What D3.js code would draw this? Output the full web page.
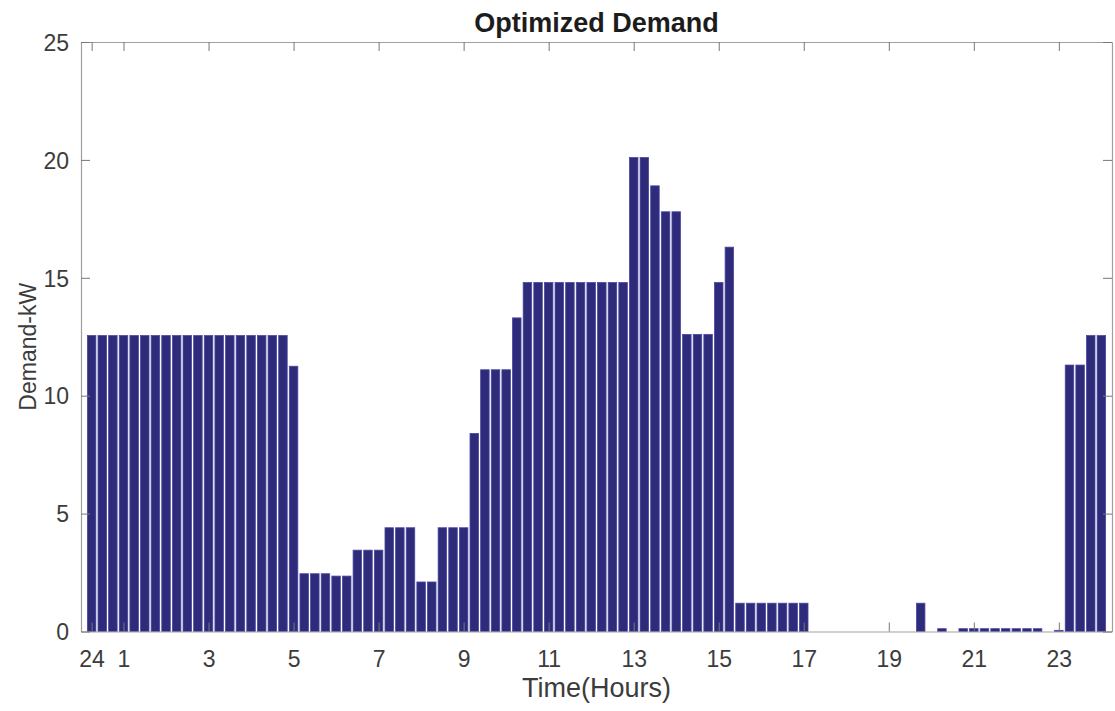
<!DOCTYPE html>
<html>
<head>
<meta charset="utf-8">
<script src="https://cdn.jsdelivr.net/npm/d3@7/dist/d3.min.js"></script>
<style>
  html, body { margin: 0; padding: 0; background: #ffffff; }
  svg { display: block; }
  text { font-family: "Liberation Sans", Arial, Helvetica, sans-serif; }
</style>
</head>
<body>
<svg id="chart" width="1115" height="711"></svg>
<script>
// Quarter-hour slots (1..96) of the day
const slots = d3.range(1, 97);

// Optimized demand per quarter-hour slot, kW
const demand = [
  12.55, 12.55, 12.55, 12.55, 12.55, 12.55, 12.55, 12.55,
  12.55, 12.55, 12.55, 12.55, 12.55, 12.55, 12.55, 12.55,
  12.55, 12.55, 12.55, 11.25, 2.45, 2.45, 2.45, 2.35,
  2.35, 3.45, 3.45, 3.45, 4.4, 4.4, 4.4, 2.1,
  2.1, 4.4, 4.4, 4.4, 8.4, 11.1, 11.1, 11.1,
  13.3, 14.8, 14.8, 14.8, 14.8, 14.8, 14.8, 14.8,
  14.8, 14.8, 14.8, 20.1, 20.1, 18.9, 17.8, 17.8,
  12.6, 12.6, 12.6, 14.8, 16.3, 1.2, 1.2, 1.2,
  1.2, 1.2, 1.2, 1.2, 0, 0, 0, 0,
  0, 0, 0, 0, 0, 0, 1.2, 0,
  0.12, 0, 0.12, 0.12, 0.12, 0.12, 0.12, 0.12,
  0.12, 0.12, 0, 0.05, 11.3, 11.3, 12.55, 12.55
];

// Hour ticks on the slot axis
const tickSlots  = [1, 4, 12, 20, 28, 36, 44, 52, 60, 68, 76, 84, 92];
const tickLabels = ["24", "1", "3", "5", "7", "9", "11", "13", "15", "17", "19", "21", "23"];
const yTicks = [0, 5, 10, 15, 20, 25];

const plotLeft = 81, plotRight = 1112, plotTop = 42, plotBottom = 631.5;
const svg = d3.select("#chart");

const x = d3.scaleLinear().domain([0, 97]).range([plotLeft, plotRight]);
const y = d3.scaleLinear().domain([0, 25]).range([plotBottom, plotTop]);
const barW = 0.8;

// Bars
svg.append("g")
  .selectAll("rect")
  .data(slots)
  .join("rect")
  .attr("x", d => x(d - barW / 2))
  .attr("width", d => x(barW) - x(0))
  .attr("y", (d, i) => y(demand[i]))
  .attr("height", (d, i) => y(0) - y(demand[i]))
  .attr("fill", "#2f2b7b")
  .attr("stroke", "#4a46a0")
  .attr("stroke-width", 0.8);

const axisColor = "#a0a0a0";
const tickSize = 9;

// Axis box and inward ticks
const gx = svg.append("g").attr("transform", `translate(0,${plotBottom})`)
  .call(d3.axisBottom(x).tickValues(tickSlots).tickFormat((d, i) => tickLabels[i])
    .tickSizeInner(-tickSize).tickSizeOuter(0).tickPadding(tickSize + 10));
const gxt = svg.append("g").attr("transform", `translate(0,${plotTop})`)
  .call(d3.axisTop(x).tickValues(tickSlots).tickFormat("")
    .tickSizeInner(-tickSize).tickSizeOuter(0));
const gy = svg.append("g").attr("transform", `translate(${plotLeft},0)`)
  .call(d3.axisLeft(y).tickValues(yTicks).tickFormat(d3.format("d"))
    .tickSizeInner(-tickSize).tickSizeOuter(0).tickPadding(12));
const gyr = svg.append("g").attr("transform", `translate(${plotRight},0)`)
  .call(d3.axisRight(y).tickValues(yTicks).tickFormat("")
    .tickSizeInner(-tickSize).tickSizeOuter(0));

[gx, gxt, gy, gyr].forEach(g => {
  g.select(".domain").attr("stroke", axisColor).attr("stroke-width", 1.2);
  g.selectAll(".tick line").attr("stroke", "#777777").attr("stroke-width", 1);
  g.selectAll(".tick text").attr("fill", "#3c3c3c").style("font-size", "23px");
});
gy.selectAll(".tick text").attr("dy", "0.36em");
gx.selectAll(".tick text").attr("dy", "0.71em");

// Title and axis labels
svg.append("text")
  .attr("x", (plotLeft + plotRight) / 2).attr("y", 32)
  .attr("text-anchor", "middle")
  .style("font-size", "27px").style("font-weight", "bold")
  .attr("fill", "#1c1c1c")
  .text("Optimized Demand");

svg.append("text")
  .attr("x", (plotLeft + plotRight) / 2).attr("y", 697)
  .attr("text-anchor", "middle")
  .style("font-size", "27px")
  .attr("fill", "#3c3c3c")
  .text("Time(Hours)");

svg.append("text")
  .attr("transform", `translate(36,${(plotTop + plotBottom) / 2 + 10}) rotate(-90)`)
  .attr("text-anchor", "middle")
  .style("font-size", "23px")
  .attr("fill", "#3c3c3c")
  .text("Demand-kW");
</script>
</body>
</html>
